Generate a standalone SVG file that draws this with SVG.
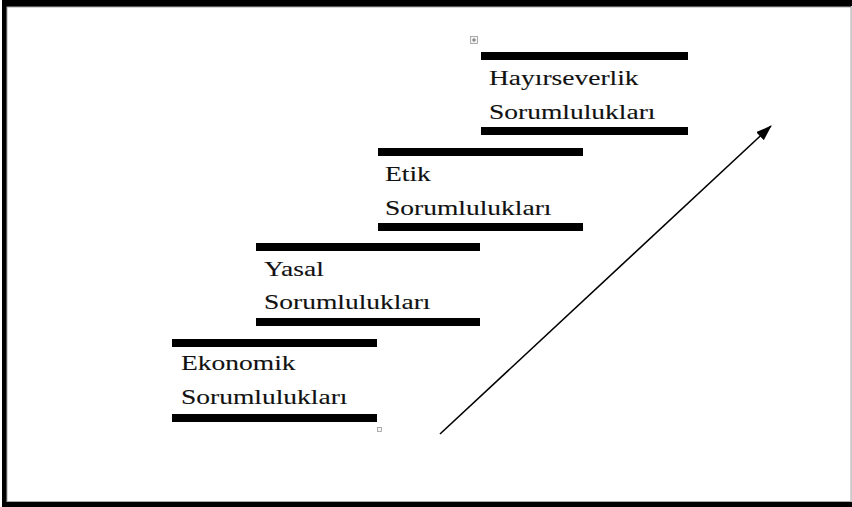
<svg xmlns="http://www.w3.org/2000/svg" width="852" height="507" viewBox="0 0 852 507">
<style>
.bar{fill:#000}
.t{font-family:"Liberation Serif","Times New Roman",serif;font-size:22px;fill:#111;stroke:#111;stroke-width:0.12}
</style>
<defs>
<marker id="ah" markerWidth="16" markerHeight="11" refX="15" refY="5.5" orient="auto" markerUnits="userSpaceOnUse" viewBox="0 0 16 11">
<path d="M0,0 L16,5.5 L0,11 Z" fill="#000"/>
</marker>
</defs>
<rect x="0" y="0" width="852" height="507" fill="#fff"/>
<rect x="2" y="0" width="850" height="507" fill="#000"/>
<rect x="7" y="7" width="844" height="494.5" fill="#fff" stroke="#aaa" stroke-width="1"/>
<rect x="851" y="6" width="1" height="496" fill="#ccc"/>

<g id="ekonomik">
<rect class="bar" x="172" y="339" width="205" height="8"/>
<text class="t" transform="translate(181 370) scale(1.25 1)">Ekonomik</text>
<text class="t" transform="translate(181 404) scale(1.25 1)">Sorumlulukları</text>
<rect class="bar" x="172" y="414" width="205" height="8"/>
</g>
<g id="yasal">
<rect class="bar" x="256" y="243" width="224" height="8"/>
<text class="t" transform="translate(264 276) scale(1.25 1)">Yasal</text>
<text class="t" transform="translate(264 309) scale(1.25 1)">Sorumlulukları</text>
<rect class="bar" x="256" y="318" width="224" height="8"/>
</g>
<g id="etik">
<rect class="bar" x="378" y="148" width="205" height="8"/>
<text class="t" transform="translate(385 181) scale(1.25 1)">Etik</text>
<text class="t" transform="translate(385 215) scale(1.25 1)">Sorumlulukları</text>
<rect class="bar" x="378" y="223" width="205" height="8"/>
</g>
<g id="hayirseverlik">
<rect class="bar" x="481" y="52" width="207" height="8"/>
<text class="t" transform="translate(489 85) scale(1.25 1)">Hayırseverlik</text>
<text class="t" transform="translate(489 119) scale(1.25 1)">Sorumlulukları</text>
<rect class="bar" x="481" y="127" width="207" height="8"/>
</g>
<g id="connectors">
<line x1="440" y1="434" x2="771" y2="126" stroke="#000" stroke-width="1.6" marker-end="url(#ah)"/>
</g>
<g id="handles" fill="#f4f4f4" stroke="#999" stroke-width="0.8">
<rect x="470.5" y="36.5" width="7" height="7"/>
<path d="M474 38v4M472 40h4" stroke="#555"/>
<rect x="377.5" y="427.5" width="4" height="4"/>
</g>
</svg>
